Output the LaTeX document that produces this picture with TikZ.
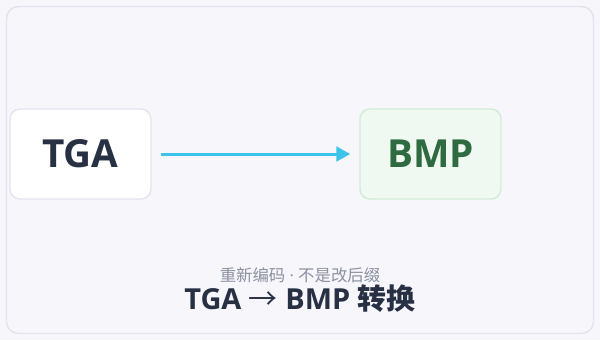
\documentclass[tikz,border=0pt]{standalone}
\usepackage{fontspec}
\setmainfont{Open Sans}
\newfontfamily\cjk{Noto Sans CJK SC}
\usetikzlibrary{arrows.meta,positioning}
\definecolor{Canvas}{HTML}{F6F6FB}
\definecolor{Frame}{HTML}{E3E5EC}
\definecolor{Ink}{HTML}{283044}
\definecolor{Sky}{HTML}{3EC3E8}
\definecolor{Muted}{HTML}{8C90A0}
\definecolor{Mint}{HTML}{F0F9F1}
\definecolor{MintRule}{HTML}{D3ECD8}
\definecolor{Leaf}{HTML}{2E6B40}
\definecolor{Rule}{HTML}{E4E6EE}
\tikzset{fmt/.style={rounded corners=7.5pt,minimum width=105.75pt,minimum height=67.5pt,line width=1.1pt,font=\fontsize{29pt}{33pt}\selectfont\bfseries},flow/.style={-{Triangle[length=10.5pt,width=11pt]},line width=2.25pt,draw=Sky,shorten <=6.75pt,shorten >=6.75pt},subnote/.style={font=\fontsize{12.3pt}{14pt}\selectfont,text=Muted}}
\begin{document}
\begin{tikzpicture}[x=0.75pt,y=-0.75pt]
\useasboundingbox[fill=Canvas] (0,0) rectangle (600,340);
\draw[draw=Frame,line width=1.1pt,rounded corners=9pt] (6.5,6.5) rectangle (593.5,333.5);
\node[fmt,draw=Rule,fill=white,text=Ink] (tga) at (80.5,154) {TGA};
\node[fmt,draw=MintRule,fill=Mint,text=Leaf] (bmp) at (430.5,154) {BMP};
\draw[flow] (tga)--(bmp);
\node[subnote] (sub) at (300,275) {{\cjk 重新编码} · {\cjk 不是改后缀}};
\node[font=\fontsize{21.7pt}{25pt}\selectfont\bfseries,text=Ink] (title) at (300,299) {TGA {\cjk\mdseries →} BMP {\cjk 转换}};
\end{tikzpicture}
\end{document}
